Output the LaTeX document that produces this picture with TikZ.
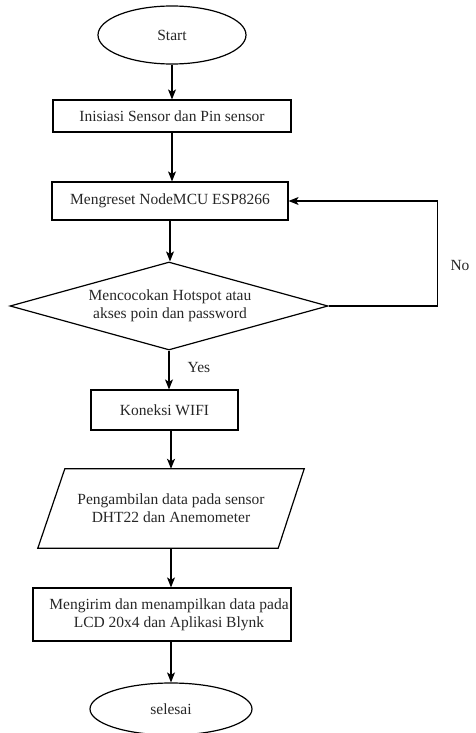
\documentclass[tikz,border=0pt]{standalone}
\usepackage{fontspec}
\setmainfont{Liberation Serif}
\usetikzlibrary{shapes.geometric,arrows.meta}
\begin{document}
\begin{tikzpicture}[x=1pt,y=-1pt,
  every node/.style={font=\fontsize{15.5}{18}\selectfont, text=black!85, inner sep=0pt},
  box/.style={draw, line width=1.2pt, rectangle},
  term/.style={draw, line width=1.2pt, ellipse},
  dec/.style={draw, line width=1.2pt, diamond},
  arr/.style={line width=1.2pt, -{Stealth[length=10pt,width=8pt,inset=2.5pt]}}
]
\useasboundingbox (0,0) rectangle (475,733);
\node[term, minimum width=148pt, minimum height=58pt] (start) at (172,35) {Start};
\node[box, minimum width=238pt, minimum height=32pt] (init) at (172,116) {Inisiasi Sensor dan Pin sensor};
\node[box, minimum width=236pt, minimum height=38pt] (reset) at (170,201) {Mengreset NodeMCU ESP8266};
\node[dec, minimum width=318pt, minimum height=88pt] (dec) at (169,306) {};
\node[align=center] (dectxt) at (170,306) {Mencocokan Hotspot atau\\akses poin dan password};
\node[box, minimum width=147pt, minimum height=40pt] (wifi) at (164.5,410) {Koneksi WIFI};
\node[minimum width=266pt, minimum height=79pt, align=center] (data) at (171,508.5) {Pengambilan data pada sensor\\DHT22 dan Anemometer};
\draw[line width=1.2pt] ([xshift=27pt]data.north west) -- (data.north east) -- ([xshift=-26pt]data.south east) -- (data.south west) -- cycle;
\node[box, minimum width=258pt, minimum height=53pt,
  label={[name=sendtxt, align=center, xshift=7pt]center:{Mengirim dan menampilkan data pada\\LCD 20x4 dan Aplikasi Blynk}}] (send) at (162,614.5) {};
\node[term, minimum width=162pt, minimum height=52pt] (endn) at (171,709) {selesai};
\node (no) at (460,265) {No};
\node (yes) at (199,367) {Yes};

\draw[arr] (start.south) -- (start.south |- init.north);
\draw[arr] (init.south) -- (init.south |- reset.north);
\draw[arr] (reset.south) -- (reset.south |- dec.north);
\draw[arr] (dec.south) -- (dec.south |- wifi.north);
\draw[arr] (data.north |- wifi.south) -- (data.north);
\draw[arr] (data.south) -- (data.south |- send.north);
\draw[arr] (send.south -| endn.north) -- (endn.north);
\draw[arr] (dec.east) -- ++(109,0) |- (reset.east);
\end{tikzpicture}
\end{document}
